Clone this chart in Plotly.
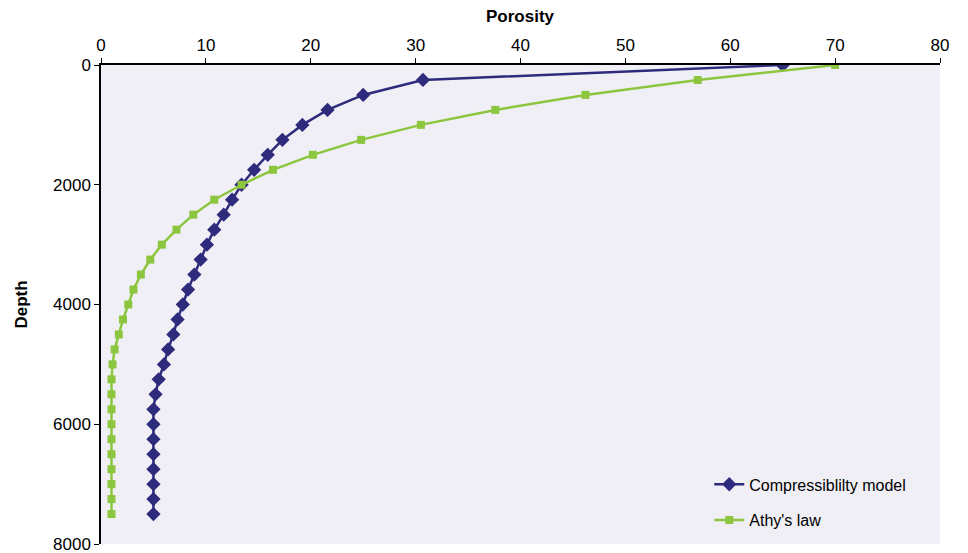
import plotly.graph_objects as go

depth = [i * 250 for i in range(31)]
compressibility = [65.0, 30.7, 25.0, 21.6, 19.2, 17.3, 15.9, 14.6, 13.4, 12.5, 11.7, 10.8, 10.1,
                   9.5, 8.9, 8.3, 7.8, 7.3, 6.9, 6.4, 6.0, 5.5, 5.2,
                   5.0, 5.0, 5.0, 5.0, 5.0, 5.0, 5.0, 5.0]
athy = [70.0, 56.9, 46.2, 37.6, 30.5, 24.8, 20.2, 16.4, 13.4, 10.8, 8.8, 7.2, 5.8,
        4.7, 3.8, 3.1, 2.6, 2.1, 1.7, 1.3, 1.1,
        1.0, 1.0, 1.0, 1.0, 1.0, 1.0, 1.0, 1.0, 1.0, 1.0]
x_ticks = [0, 10, 20, 30, 40, 50, 60, 70, 80]
y_ticks = [0, 2000, 4000, 6000, 8000]

blue = "#2E2B7C"
green = "#8CC63F"

fig = go.Figure()
fig.add_trace(go.Scatter(x=compressibility, y=depth, mode="lines+markers",
                         name="Compressiblilty model", legendgroup="a",
                         line=dict(color=blue, width=2.5),
                         marker=dict(symbol="diamond", size=11, color=blue)))
fig.add_trace(go.Scatter(x=athy, y=depth, mode="lines+markers",
                         name="Athy's law", legendgroup="b",
                         line=dict(color=green, width=2.5),
                         marker=dict(symbol="square", size=8, color=green)))

fig.update_layout(
    width=968, height=553,
    margin=dict(l=101, r=28, t=65, b=9),
    paper_bgcolor="white",
    plot_bgcolor="#F1EFF6",
    font=dict(family="Liberation Sans, Arial, sans-serif", size=17, color="black"),
    showlegend=True,
    legend=dict(x=0.725, y=0.16, xanchor="left", yanchor="top",
                bgcolor="rgba(0,0,0,0)", font=dict(size=16), tracegroupgap=12,
                itemwidth=30),
    xaxis=dict(side="top", range=[0, 80], tickvals=x_ticks, showgrid=False,
               zeroline=False, showline=True, linecolor="black", linewidth=1.5,
               ticks="outside", ticklen=5, tickcolor="black", automargin=False,
               ticklabeloverflow="allow"),
    yaxis=dict(range=[8000, 0], tickvals=y_ticks, showgrid=False,
               zeroline=False, showline=True, linecolor="black", linewidth=1.5,
               ticks="outside", ticklen=5, tickcolor="black", automargin=False,
               ticklabeloverflow="allow"),
    annotations=[
        dict(text="<b>Porosity</b>", x=0.5, xref="paper", y=1 + (65 - 17) / 479, yref="paper",
             showarrow=False, font=dict(size=17), yanchor="middle"),
        dict(text="<b>Depth</b>", x=-(101 - 21) / 839, xref="paper", y=0.5, yref="paper",
             showarrow=False, font=dict(size=17), textangle=-90, xanchor="center"),
    ],
)

# remove the browser's default 8px page margin so the figure fills the window exactly
fig.write_html("out.html", config={"displayModeBar": False},
               post_script="document.body.style.margin='0';")
